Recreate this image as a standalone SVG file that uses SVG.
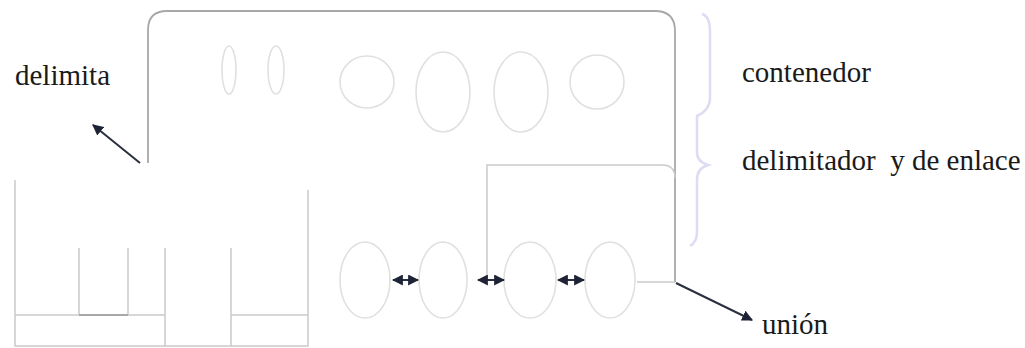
<svg xmlns="http://www.w3.org/2000/svg" width="1025" height="348" viewBox="0 0 1025 348">
<style>
.ln{fill:none;stroke:#cacaca;stroke-width:1.5}
.dk{fill:none;stroke:#a8a8a8;stroke-width:1.8}
.el{fill:none;stroke:#e0e0e0;stroke-width:1.6}
.ar{fill:none;stroke:#2a2f40;stroke-width:2}
.tx{font-family:"Liberation Serif","Times New Roman",serif;font-size:29px;fill:#1a1a1a}
.br{fill:none;stroke:#dcdcf2;stroke-width:2.5}
</style>
<defs>
<marker id="ah" viewBox="0 0 10 10" refX="9" refY="5" markerWidth="5.5" markerHeight="5.5" orient="auto-start-reverse"><path d="M0,0 L10,5 L0,10 z" fill="#1e2336"/></marker>
</defs>
<g id="container">
<path class="dk" d="M148,163 L148,30 Q148,11 167,11 L655,11 Q675,11 675,31 L675,282"/>
<ellipse class="el" cx="229" cy="70" rx="7" ry="24"/>
<ellipse class="el" cx="276" cy="70" rx="8" ry="24"/>
<ellipse class="el" cx="367" cy="82" rx="27" ry="26"/>
<ellipse class="el" cx="443" cy="92" rx="27" ry="40"/>
<ellipse class="el" cx="521" cy="92" rx="27" ry="40"/>
<ellipse class="el" cx="597" cy="82" rx="27" ry="27"/>
</g>
<g id="enlace">
<path class="ln" d="M487,280 L487,165 L662,165 Q675,165 675,178"/>
<line class="ln" x1="637" y1="282" x2="675" y2="282"/>
<ellipse class="el" cx="365" cy="280" rx="25" ry="38"/>
<ellipse class="el" cx="443" cy="280" rx="24" ry="38"/>
<ellipse class="el" cx="530" cy="280" rx="26" ry="38"/>
<ellipse class="el" cx="610" cy="280" rx="25" ry="38"/>
</g>
<g id="delimitador">
<path class="ln" d="M15,180 L15,346 L308,346 L308,190"/>
<line class="ln" x1="15" y1="315" x2="165" y2="315"/>
<line class="ln" x1="231" y1="315" x2="308" y2="315"/>
<line class="ln" x1="79" y1="248" x2="79" y2="315"/>
<line class="ln" x1="128" y1="248" x2="128" y2="315"/>
<line class="dk" x1="79" y1="315" x2="128" y2="315"/>
<line class="ln" x1="165" y1="248" x2="165" y2="346"/>
<line class="ln" x1="231" y1="248" x2="231" y2="346"/>
</g>
<g id="brace">
<path class="br" d="M702,14 Q710,16 710,32 L710,98 Q710,110 697,116 L697,152 Q697,162 708,165 Q697,168 697,180 L697,232 Q697,242 690,246"/>
</g>
<g id="connectors">
<line class="ar" x1="140" y1="163" x2="93" y2="125" marker-end="url(#ah)"/>
<line class="ar" x1="676" y1="283" x2="752" y2="320" marker-end="url(#ah)"/>
<line class="ar" x1="393" y1="280" x2="418" y2="280" marker-start="url(#ah)" marker-end="url(#ah)"/>
<line class="ar" x1="478" y1="280" x2="504" y2="280" marker-start="url(#ah)" marker-end="url(#ah)"/>
<line class="ar" x1="558" y1="280" x2="584" y2="280" marker-start="url(#ah)" marker-end="url(#ah)"/>
</g>
<g id="labels">
<text class="tx" x="15" y="85">delimita</text>
<text class="tx" x="742" y="82">contenedor</text>
<text class="tx" x="742" y="170" xml:space="preserve">delimitador  y de enlace</text>
<text class="tx" x="762" y="334">unión</text>
</g>
</svg>
